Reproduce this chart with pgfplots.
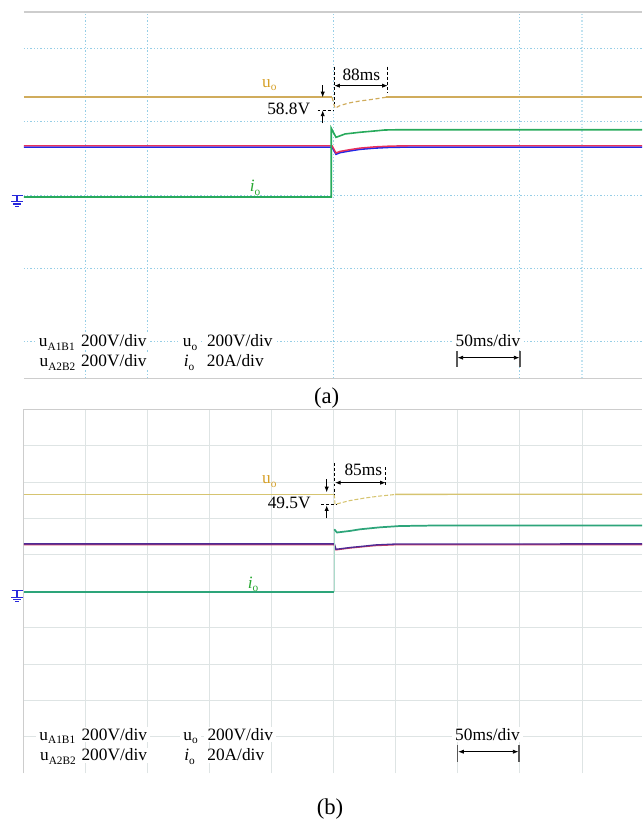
\documentclass[border=0pt]{standalone}
\usepackage{pgfplots}
\pgfplotsset{compat=1.18}
\usepackage{fontspec}
\setmainfont{Liberation Serif}
\usetikzlibrary{arrows.meta}

% trace and grid colours
\definecolor{uoA}{RGB}{208,172,92}
\definecolor{uoB}{RGB}{214,196,112}
\definecolor{uolab}{RGB}{214,160,40}
\definecolor{ioA}{RGB}{40,170,92}
\definecolor{ioB}{RGB}{45,165,122}
\definecolor{iolab}{RGB}{40,168,50}
\definecolor{redA}{RGB}{232,48,92}
\definecolor{blueA}{RGB}{32,40,232}
\definecolor{redB}{RGB}{200,60,96}
\definecolor{purB}{RGB}{78,42,150}
\definecolor{gridA}{RGB}{150,206,230}
\definecolor{gridB}{RGB}{222,228,228}
\definecolor{frame}{RGB}{205,205,205}
\definecolor{gnd}{RGB}{40,40,220}

\newcommand\sub[1]{\raisebox{-0.45ex}{\fontsize{8.5}{9}\selectfont #1}}

% one oscilloscope screen: time in ms (50 ms/div), amplitude in divisions
\pgfplotsset{osc/.style={anchor=south west, scale only axis, width=463.65pt,
  xmin=0, xmax=498.4, ymin=0, ymax=5, hide axis, clip=false}}

\begin{document}
\begin{tikzpicture}[font=\fontsize{13}{15}\selectfont]

% ---------------- (a) ----------------
\begin{axis}[osc, at={(17.85pt,331.3pt)}, height=274.7pt]
  \pgfplotsinvokeforeach{0.5,1.5,2.5,3.5,4.5}{
    \draw[gridA, line width=0.75pt, dash pattern=on 1pt off 1.5pt]
      (axis cs:0,#1) -- (axis cs:498.4,#1);}
  \pgfplotsinvokeforeach{50,100,250,400}{
    \draw[gridA, line width=0.75pt, dash pattern=on 1pt off 1.5pt]
      (axis cs:#1,0) -- (axis cs:#1,5);}
  \draw[gridA!60, line width=1.5pt, dash pattern=on 1pt off 1.5pt]
      (axis cs:450,0) -- (axis cs:450,5);
  \draw[frame, line width=0.8pt] (axis cs:0,5) -- (axis cs:498.4,5);
  \draw[frame, line width=0.8pt] (axis cs:0,0) -- (axis cs:498.4,0);

  % u_A1B1 and u_A2B2
  \addplot[blueA, line width=1.2pt] coordinates {
    (0,3.156) (248.5,3.156) (251.7,3.058) (255,3.080) (263,3.104) (271,3.125)
    (283,3.142) (295,3.152) (310,3.156) (498.4,3.156)};
  \addplot[redA, line width=1.1pt] coordinates {
    (0,3.174) (248.5,3.174) (251.7,3.075) (255,3.097) (263,3.121) (271,3.142)
    (283,3.159) (295,3.169) (310,3.174) (498.4,3.174)};
  % i_o
  \addplot[ioA, line width=1.2pt] coordinates {
    (0,2.475) (247.9,2.475) (247.9,3.413) (249.5,3.36) (251.7,3.289) (259,3.335)
    (271,3.358) (283,3.376) (291,3.389) (303,3.393) (498.4,3.393)};
  % u_o
  \addplot[uoA, line width=1.4pt] coordinates {(0,3.836) (248.5,3.836)};
  \addplot[uoA, line width=0.9pt, dash pattern=on 3pt off 2pt] coordinates {
    (248.5,3.836) (250.9,3.685) (255,3.724) (263,3.761) (271,3.785)
    (283,3.812) (289.6,3.830) (292,3.836)};
  \addplot[uoA, line width=1.4pt] coordinates {(292,3.836) (498.4,3.836)};
\end{axis}

% ---------------- (b) ----------------
\begin{axis}[osc, at={(17.85pt,35pt)}, height=273pt]
  \pgfplotsinvokeforeach{0.5,1,1.5,2,2.5,3,3.5,4,4.5}{
    \draw[gridB, line width=0.8pt] (axis cs:0,#1) -- (axis cs:498.4,#1);}
  \pgfplotsinvokeforeach{50,100,150,200,250,300,350,400,450}{
    \draw[gridB, line width=0.7pt] (axis cs:#1,0) -- (axis cs:#1,5);}
  \draw[frame, line width=0.8pt] (axis cs:0,0) -- (axis cs:0,5) -- (axis cs:498.4,5);

  % u_A1B1 and u_A2B2
  \addplot[redB, line width=1pt] coordinates {
    (0,3.142) (250.3,3.142) (251.7,3.070) (263,3.095) (275,3.115) (283,3.128)
    (300,3.140) (498.4,3.142)};
  \addplot[purB, line width=1pt] coordinates {
    (0,3.152) (250.3,3.152) (251.7,3.077) (263,3.102) (275,3.122) (283,3.137)
    (300,3.150) (498.4,3.152)};
  % i_o
  \addplot[ioB, line width=1.3pt] coordinates {(0,2.486) (250.3,2.486)};
  \addplot[ioB!40, line width=0.4pt] coordinates {(250.3,2.486) (250.3,3.352)};
  \addplot[ioB, line width=1.3pt] coordinates {
    (250.3,3.352) (252.5,3.308) (263,3.330) (271,3.352) (287,3.379) (303,3.397)
    (335,3.405) (498.4,3.405)};
  % u_o
  \addplot[uoB, line width=1pt] coordinates {(0,3.832) (250.3,3.832)};
  \addplot[uoB, line width=0.8pt, dash pattern=on 3pt off 1.5pt] coordinates {
    (250.3,3.832) (250.9,3.695) (263,3.747) (275,3.782) (287,3.809) (299.3,3.830)};
  \addplot[uoB, line width=1pt] coordinates {(299.3,3.832) (498.4,3.834)};
\end{axis}

% ---------------- annotations (pixel grid, origin top left) ----------------
\begin{scope}[x=0.75pt, y=-0.75pt, yshift=615pt]
  \tikzset{lab/.style={inner sep=0pt, anchor=base},
           box/.style={fill=white, inner xsep=2.5pt, inner ysep=1pt, anchor=base},
           tip/.style={-{Latex[length=4.2pt,width=3.2pt]}, line width=0.6pt},
           dtip/.style={{Latex[length=4.2pt,width=3.2pt]}-{Latex[length=4.2pt,width=3.2pt]}, line width=0.6pt},
           dsh/.style={line width=0.6pt, dash pattern=on 2.2pt off 1.6pt}}

  % ground markers
  \foreach \dy in {0,395.4}{
    \begin{scope}[shift={(0,\dy)}]
      \draw[gnd, line width=0.8pt] (11.7,195.3) -- (22.7,195.3);
      \draw[gnd, line width=0.8pt] (17,195.3) -- (17,201.7);
      \draw[gnd, line width=0.8pt] (11,201.7) -- (23.3,201.7);
      \draw[gnd, line width=0.8pt] (13.3,204) -- (20.7,204);
      \draw[gnd, line width=0.8pt] (15,206.5) -- (19,206.5);
    \end{scope}}

  % (a) channel labels and dip / settling-time marks
  \node[lab, text=uolab] at (269.3,87.3) {u\sub{o}};
  \node[lab, text=iolab] at (255,191.5) {\textit{i}\sub{o}};
  \draw[tip] (322.7,85.5) -- (322.7,97.3);
  \draw[tip] (322.7,123.5) -- (322.7,110.5);
  \draw[dsh] (317.5,110) -- (334.3,110);
  \node[lab] at (288.7,115) {58.8V};
  \draw[dsh] (334.3,66.7) -- (334.3,104);
  \draw[dsh] (387.7,66.7) -- (387.7,93.3);
  \draw[dtip] (334.3,85.7) -- (387.7,85.7);
  \node[lab] at (361.3,80.7) {88ms};

  % (a) scale legend
  \node[box] at (56.8,346.7) {u\sub{A1B1}};
  \node[box] at (113.8,346.7) {200V/div};
  \node[box] at (57.5,367) {u\sub{A2B2}};
  \node[box] at (113.8,367) {200V/div};
  \node[box] at (190,346.7) {u\sub{o}};
  \node[box] at (239.8,346.7) {200V/div};
  \node[box] at (189,367) {\textit{i}\sub{o}};
  \node[box] at (235.3,367) {20A/div};
  \node[box] at (488,346.7) {50ms/div};
  \draw[dtip] (457.5,357.7) -- (519.5,357.7);
  \draw[black!65, line width=0.9pt] (457,351) -- (457,366.7);
  \draw[black!65, line width=0.9pt] (520,351) -- (520,366.7);
  \node[lab, font=\fontsize{17}{19}\selectfont] at (326.7,403.3) {(a)};

  % (b) channel labels and dip / settling-time marks
  \node[lab, text=uolab] at (269.3,484) {u\sub{o}};
  \node[lab, text=iolab] at (253,588.3) {\textit{i}\sub{o}};
  \draw[tip] (326.7,479.5) -- (326.7,492.3);
  \draw[tip] (326.7,518.5) -- (326.7,505.3);
  \draw[dsh] (321,504) -- (336.7,504);
  \node[lab] at (289.2,508.7) {49.5V};
  \draw[dsh] (334.8,463.3) -- (334.8,495);
  \draw[dsh] (385.7,467.3) -- (385.7,485);
  \draw[dtip] (335,482.7) -- (385.7,482.7);
  \node[lab] at (363.3,476) {85ms};

  % (b) scale legend
  \node[box] at (57.3,740.3) {u\sub{A1B1}};
  \node[box] at (114.3,740.3) {200V/div};
  \node[box] at (58,761) {u\sub{A2B2}};
  \node[box] at (114.3,761) {200V/div};
  \node[box] at (190.5,740.3) {u\sub{o}};
  \node[box] at (240.3,740.3) {200V/div};
  \node[box] at (189.5,761) {\textit{i}\sub{o}};
  \node[box] at (235.8,761) {20A/div};
  \node[box] at (487.5,740.3) {50ms/div};
  \draw[dtip] (458.2,751.7) -- (518.5,751.7);
  \draw[black!65, line width=0.9pt] (457.7,745) -- (457.7,762.3);
  \draw[black!65, line width=0.9pt] (519,745) -- (519,762.3);
  \node[lab, font=\fontsize{17}{19}\selectfont] at (330,815) {(b)};
\end{scope}

\pgfresetboundingbox
\path[use as bounding box] (0,0) rectangle (481.5pt,615pt);
\end{tikzpicture}
\end{document}
